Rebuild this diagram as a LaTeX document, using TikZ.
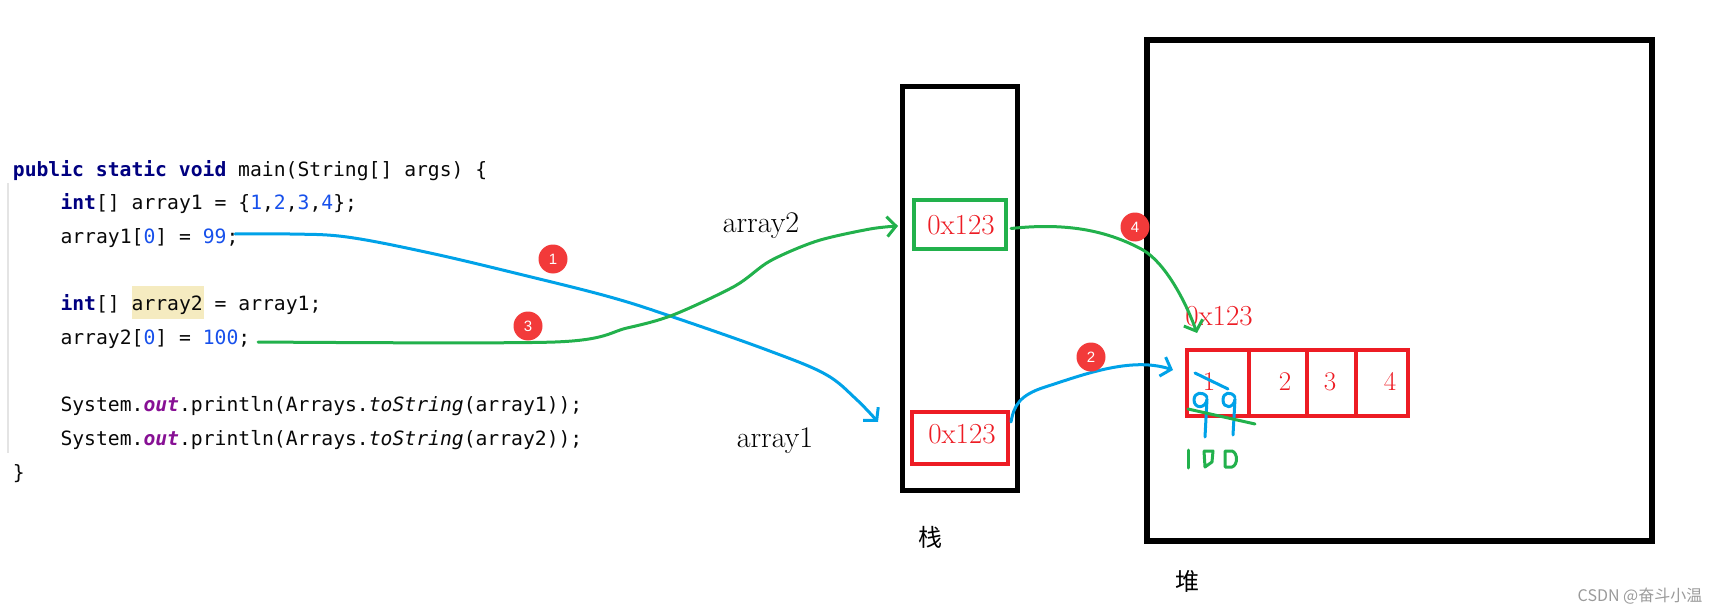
\documentclass[tikz,border=0pt]{standalone}
\usepackage{fontspec}
\newfontfamily\codefont{DejaVu Sans Mono}
\newfontfamily\cjkfont{Noto Sans CJK SC}
\newfontfamily\badgefont{Liberation Sans}
\usetikzlibrary{arrows.meta,calc}
\definecolor{kwnavy}{HTML}{000080}
\definecolor{numblue}{HTML}{1750EB}
\definecolor{fldpurple}{HTML}{871094}
\definecolor{codeblack}{HTML}{080808}
\definecolor{hlyellow}{HTML}{F5EBC0}
\definecolor{guidegray}{HTML}{E4E4E4}
\definecolor{pblue}{HTML}{00A2E8}
\definecolor{pgreen}{HTML}{22B14C}
\definecolor{pred}{HTML}{ED1C24}
\definecolor{badgered}{HTML}{F23A3A}
\definecolor{wmgray}{HTML}{9A9A9A}
\newcommand{\kw}[1]{\textcolor{kwnavy}{\bfseries #1}}
\newcommand{\nm}[1]{\textcolor{numblue}{#1}}
\newcommand{\fld}[1]{\textcolor{fldpurple}{\bfseries\itshape #1}}
\newcommand{\mth}[1]{\textit{#1}}
\begin{document}
\begin{tikzpicture}[x=1pt,y=-1pt,
  code/.style={font=\codefont\fontsize{19.7}{22}\selectfont, text=codeblack, anchor=base west, inner sep=0pt},
  lbl/.style={font=\fontsize{30}{32}\selectfont, text=black, anchor=base, inner sep=0pt},
  addr/.style={font=\fontsize{29}{30}\selectfont, text=pred, anchor=base, inner sep=0pt},
  digit/.style={font=\fontsize{27}{28}\selectfont, text=pred, anchor=base, inner sep=0pt},
  cjk/.style={font=\cjkfont\fontsize{24}{26}\selectfont, text=black, inner sep=0pt},
  badge/.style={shape=circle, fill=badgered, text=white, font=\badgefont\fontsize{15}{15}\selectfont, minimum size=29pt, inner sep=0pt},
  framebox/.style={draw=black, inner sep=0pt},
  cell/.style={draw=pred, line width=4pt, inner sep=0pt, minimum height=66pt},
  bluepen/.style={draw=pblue, line width=3pt, line cap=round, line join=round},
  greenpen/.style={draw=pgreen, line width=3pt, line cap=round, line join=round},
  barb/.style={-{Straight Barb[length=9pt,width=20pt]}}
]
\useasboundingbox (0,0) rectangle (1722,615);

% ---- code ----
\fill[hlyellow] (132,286) rectangle (204,319);
\draw[guidegray, line width=1.2pt] (8,183) -- (8,453);
\node[code] (l1) at (12.7,176) {\kw{public} \kw{static} \kw{void} main(String[] args) \{};
\node[code] (l2) at (60.3,209.7) {\kw{int}[] array1 = \{\nm{1},\nm{2},\nm{3},\nm{4}\};};
\node[code] (l3) at (60.3,243.4) {array1[\nm{0}] = \nm{99};};
\node[code] (l5) at (60.3,310.8) {\kw{int}[] array2 = array1;};
\node[code] (l6) at (60.3,344.5) {array2[\nm{0}] = \nm{100};};
\node[code] (l8) at (60.3,411.9) {System.\fld{out}.println(Arrays.\mth{toString}(array1));};
\node[code] (l9) at (60.3,445.6) {System.\fld{out}.println(Arrays.\mth{toString}(array2));};
\node[code] (l10) at (12.7,479.3) {\}};

% ---- stack ----
\node[framebox, line width=5pt, minimum width=115pt, minimum height=403pt] (stack) at (959.5,288.5) {};
\node[draw=pgreen, line width=4pt, minimum width=92pt, minimum height=49pt, inner sep=0pt] (gbox) at (960,224.5) {};
\node[addr] (gtxt) at (961,234) {0x123};
\node[draw=pred, line width=4pt, minimum width=96pt, minimum height=52pt, inner sep=0pt] (rbox) at (960,438) {};
\node[addr] (rtxt) at (962,443) {0x123};
\node[lbl] (a2) at (761,232) {array2};
\node[lbl] (a1) at (775,447) {array1};
\node[cjk] (zhan) at (930.5,537) {栈};

% ---- heap ----
\node[framebox, line width=6pt, minimum width=505pt, minimum height=501pt] (heap) at (1399.5,290.5) {};
\node[cjk] (dui) at (1187,581) {堆};
\node[addr] (htxt) at (1219,325) {0x123};
\node[cell, minimum width=62pt] (c1) at (1218,383) {};
\node[cell, minimum width=58pt] (c2) at (1278,383) {};
\node[cell, minimum width=49pt] (c3) at (1331.5,383) {};
\node[cell, minimum width=52pt] (c4) at (1382,383) {};
\node[digit] (d1) at (1209,390) {1};
\node[digit] (d2) at (1285,390) {2};
\node[digit] (d3) at (1330,390) {3};
\node[digit] (d4) at (1390,390) {4};

% ---- handwritten edits ----
\draw[bluepen] (1195,373) -- (1228,389);
\draw[bluepen] (1207,397) .. controls (1203,391) and (1194,392) .. (1194,400) .. controls (1194,409) and (1206,409) .. (1207,399) -- (1205,437);
\draw[bluepen] (1235,397) .. controls (1231,391) and (1223,392) .. (1223,400) .. controls (1223,409) and (1234,409) .. (1235,399) -- (1233,435);
\draw[greenpen] (1188,409) -- (1255,424);
\draw[greenpen] (1188,450) -- (1188,468);
\draw[greenpen] (1204,451) -- (1213,451) -- (1212,462) -- (1205,467) -- (1204,451);
\draw[greenpen] (1225,451) -- (1232,451) .. controls (1238,453) and (1238,465) .. (1232,467) -- (1225,467) -- (1225,451);

% ---- connectors ----
\coordinate (s1) at (235,234);
\coordinate (t1) at (878,422);
\draw[bluepen, barb] plot[smooth, tension=0.6] coordinates {(s1) (290,234) (347,237) (430,253) (523,275) (610,297) (673,317) (767,350) (825,374) (856,399) (t1)};

\coordinate (s3) at (258,342);
\coordinate (t3) at (898,226);
\draw[greenpen, barb] plot[smooth, tension=0.5] coordinates {(s3) (555,342) (627,328) (673,315) (735,286) (770,261) (817,241) (870,229) (t3)};

\coordinate (s4) at ($(gbox.east)+(3,4)$);
\coordinate (t4) at (1197,333);
\draw[greenpen, barb] (s4) .. controls (1070,222) and (1110,232) .. (1143,250) .. controls (1165,263) and (1185,300) .. (t4);

\coordinate (s2) at ($(rbox.east)+(1,-16)$);
\coordinate (t2) at (1173,370);
\draw[bluepen, barb] (s2) .. controls (1014,405) and (1020,395) .. (1045,387) .. controls (1080,376) and (1130,356) .. (t2);

% ---- step badges ----
\node[badge] (b1) at (553,259) {1};
\node[badge] (b2) at (1091,357) {2};
\node[badge] (b3) at (528,326) {3};
\node[badge] (b4) at (1135,227) {4};

% ---- watermark ----
\node[font=\cjkfont\fontsize{16}{18}\selectfont, text=wmgray, inner sep=0pt] (wm) at (1640,596) {CSDN @奋斗小温};
\end{tikzpicture}
\end{document}
